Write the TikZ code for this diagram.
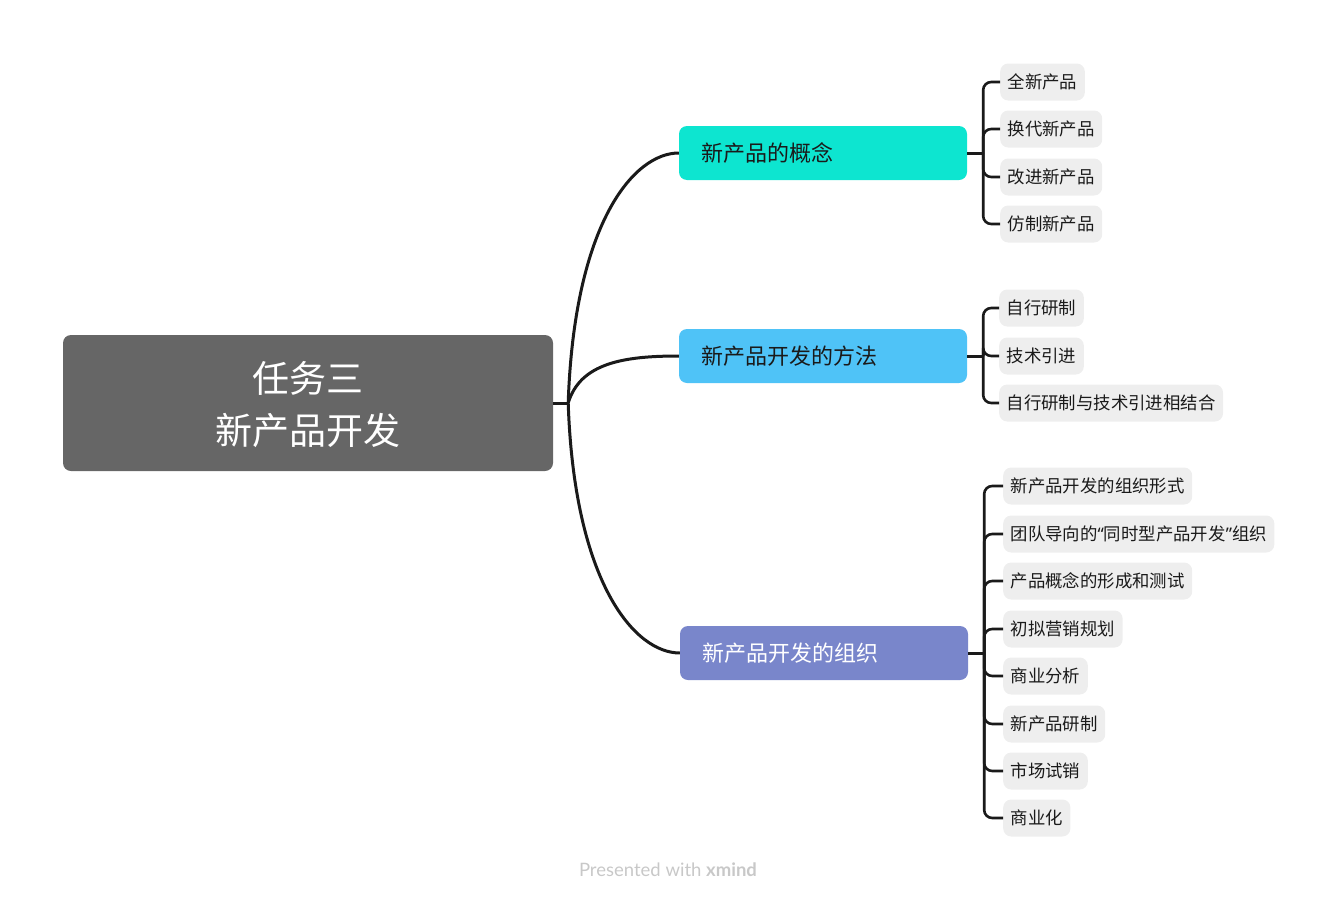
\documentclass[tikz,border=0pt]{standalone}
\usepackage{fontspec}
\setmainfont{Noto Sans CJK SC}
\newfontfamily\footfont{Lato}
\newfontfamily\quotefont{Noto Sans}

\definecolor{rootgray}{HTML}{666666}
\definecolor{topicA}{HTML}{0DE5D0}
\definecolor{topicB}{HTML}{4FC3F7}
\definecolor{topicC}{HTML}{7986CB}
\definecolor{leafgray}{HTML}{EEEEEE}
\definecolor{ink}{HTML}{1A1A1A}
\definecolor{footgray}{HTML}{C8C8C8}

\begin{document}
\begin{tikzpicture}[x=1pt, y=-1pt,
  root/.style={fill=rootgray, rounded corners=8pt, minimum width=490pt, minimum height=136pt,
    align=center, text=white, font=\fontsize{37}{52}\selectfont},
  topic/.style={rounded corners=8pt, text width=244pt, inner xsep=22pt, minimum height=54pt,
    align=left, text=ink, font=\fontsize{22}{26}\selectfont},
  leaf/.style={anchor=west, fill=leafgray, rounded corners=8pt, inner xsep=7.5pt,
    minimum height=37pt, text=ink, font=\fontsize{17.4}{20}\selectfont},
  link/.style={draw=ink, line width=3pt},
  twig/.style={draw=ink, line width=2.6pt, rounded corners=8pt}]
  \useasboundingbox (0,0) rectangle (1338,902);

  \node[root, text depth=-6pt] (r) at (308,403) {任务三\\新产品开发};
  \node[topic, fill=topicA] (b1) at (823,153) {新产品的概念};
  \node[topic, fill=topicB] (b2) at (823,356) {新产品开发的方法};
  \node[topic, fill=topicC, text=white] (b3) at (824,653) {新产品开发的组织};

  \node[leaf] (l11) at (1000,82) {全新产品};
  \node[leaf] (l12) at (1000,129) {换代新产品};
  \node[leaf] (l13) at (1000,177) {改进新产品};
  \node[leaf] (l14) at (1000,224) {仿制新产品};

  \node[leaf] (l21) at (999,308) {自行研制};
  \node[leaf] (l22) at (999,356) {技术引进};
  \node[leaf] (l23) at (999,403) {自行研制与技术引进相结合};

  \node[leaf] (l31) at (1003,486) {新产品开发的组织形式};
  \node[leaf] (l32) at (1003,534) {团队导向的{\quotefont “}同时型产品开发{\quotefont ”}组织};
  \node[leaf] (l33) at (1003,581) {产品概念的形成和测试};
  \node[leaf] (l34) at (1003,629) {初拟营销规划};
  \node[leaf] (l35) at (1003,676) {商业分析};
  \node[leaf] (l36) at (1003,724) {新产品研制};
  \node[leaf] (l37) at (1003,771) {市场试销};
  \node[leaf] (l38) at (1003,818) {商业化};

  \node[text=footgray, font=\footfont\fontsize{18.5}{22}\selectfont] (ft) at (668,870)
    {Presented with \textbf{xmind}};

  \coordinate (j) at ([xshift=15pt]r.east);
  \coordinate (c1) at ([xshift=16pt]b1.east);
  \coordinate (c2) at ([xshift=16pt]b2.east);
  \coordinate (c3) at ([xshift=16pt]b3.east);

  \draw[link] (r.east) -- (j);
  \draw[link] (j) .. controls +(6,-180) and +(-45,0) .. (b1.west);
  \draw[link] (j) .. controls +(12,-40) and +(-55,0) .. (b2.west);
  \draw[link] (j) .. controls +(6,180) and +(-45,0) .. (b3.west);

  \draw[link] (b1.east) -- (c1);
  \draw[link] (b2.east) -- (c2);
  \draw[link] (b3.east) -- (c3);

  \draw[twig] (c1) |- (l11.west);
  \draw[twig] (c1) |- (l12.west);
  \draw[twig] (c1) |- (l13.west);
  \draw[twig] (c1) |- (l14.west);

  \draw[twig] (c2) |- (l21.west);
  \draw[twig] (c2) |- (l22.west);
  \draw[twig] (c2) |- (l23.west);

  \draw[twig] (c3) |- (l31.west);
  \draw[twig] (c3) |- (l32.west);
  \draw[twig] (c3) |- (l33.west);
  \draw[twig] (c3) |- (l34.west);
  \draw[twig] (c3) |- (l35.west);
  \draw[twig] (c3) |- (l36.west);
  \draw[twig] (c3) |- (l37.west);
  \draw[twig] (c3) |- (l38.west);
\end{tikzpicture}
\end{document}
